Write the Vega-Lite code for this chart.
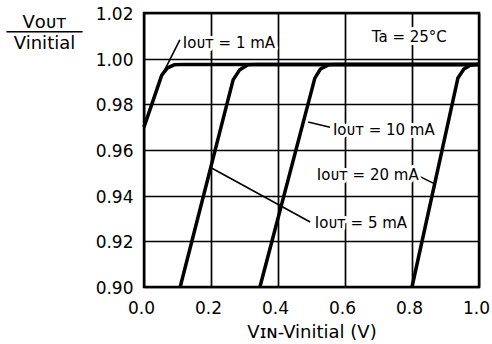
{
  "$schema": "https://vega.github.io/schema/vega-lite/v6.json",
  "width": 335,
  "height": 274,
  "autosize": {"type": "none"},
  "padding": {"left": 144, "top": 13, "right": 13, "bottom": 57},
  "background": "white",
  "config": {"view": {"stroke": "black", "strokeWidth": 2.5}, "font": "DejaVu Sans"},
  "datasets": {
    "curves": [
      {"s": "1 mA", "v": 0.0, "r": 0.970},
      {"s": "1 mA", "v": 0.053, "r": 0.9928},
      {"s": "1 mA", "v": 0.07, "r": 0.9960},
      {"s": "1 mA", "v": 0.09, "r": 0.9973},
      {"s": "1 mA", "v": 0.12, "r": 0.9975},
      {"s": "1 mA", "v": 1.0, "r": 0.9975},
      {"s": "5 mA", "v": 0.108, "r": 0.900},
      {"s": "5 mA", "v": 0.266, "r": 0.9907},
      {"s": "5 mA", "v": 0.285, "r": 0.9950},
      {"s": "5 mA", "v": 0.31, "r": 0.9973},
      {"s": "5 mA", "v": 0.34, "r": 0.9975},
      {"s": "5 mA", "v": 1.0, "r": 0.9975},
      {"s": "10 mA", "v": 0.346, "r": 0.900},
      {"s": "10 mA", "v": 0.51, "r": 0.9915},
      {"s": "10 mA", "v": 0.527, "r": 0.9955},
      {"s": "10 mA", "v": 0.55, "r": 0.9973},
      {"s": "10 mA", "v": 0.58, "r": 0.9975},
      {"s": "10 mA", "v": 1.0, "r": 0.9975},
      {"s": "20 mA", "v": 0.80, "r": 0.900},
      {"s": "20 mA", "v": 0.937, "r": 0.9915},
      {"s": "20 mA", "v": 0.955, "r": 0.9955},
      {"s": "20 mA", "v": 0.975, "r": 0.9972},
      {"s": "20 mA", "v": 1.0, "r": 0.9975}
    ],
    "leaders": [
      {"x": 0.107, "y": 1.0082, "x2": 0.054, "y2": 0.9928},
      {"x": 0.49, "y": 0.9723, "x2": 0.555, "y2": 0.970},
      {"x": 0.815, "y": 0.949, "x2": 0.863, "y2": 0.9455},
      {"x": 0.203, "y": 0.952, "x2": 0.496, "y2": 0.9285}
    ],
    "labels": [
      {"t": "Iᴏᴜᴛ = 1 mA", "x": 0.116, "y": 1.0069},
      {"t": "Ta = 25°C", "x": 0.680, "y": 1.0095},
      {"t": "Iᴏᴜᴛ = 10 mA", "x": 0.564, "y": 0.9688},
      {"t": "Iᴏᴜᴛ = 20 mA", "x": 0.516, "y": 0.949},
      {"t": "Iᴏᴜᴛ = 5 mA", "x": 0.510, "y": 0.928}
    ]
  },
  "layer": [
    {
      "data": {"name": "curves"},
      "mark": {"type": "line", "color": "black", "strokeWidth": 3.5, "strokeJoin": "round"},
      "encoding": {
        "x": {
          "field": "v", "type": "quantitative",
          "scale": {"domain": [0, 1], "nice": false, "zero": false},
          "axis": {
            "values": [0, 0.1, 0.2, 0.3, 0.4, 0.5, 0.6, 0.7, 0.8, 0.9, 1.0],
            "labelExpr": "round(datum.value*10) % 2 == 0 ? format(datum.value, '.1f') : ''",
            "grid": true, "gridColor": "black", "gridWidth": 1.7, "gridOpacity": 1,
            "ticks": false, "domain": false, "labelFlush": false,
            "labelFontSize": 17, "labelColor": "black", "labelPadding": 13, "labelOffset": -3,
            "title": "Vɪɴ-Vinitial (V)", "titleFontSize": 18, "titleFontWeight": "normal",
            "titleColor": "black", "titleX": 167.5, "titleY": 50, "titleBaseline": "alphabetic",
            "titleAlign": "center", "titleAnchor": null
          }
        },
        "y": {
          "field": "r", "type": "quantitative",
          "scale": {"domain": [0.90, 1.02], "nice": false, "zero": false},
          "axis": {
            "values": [0.90, 0.92, 0.94, 0.96, 0.98, 1.00, 1.02],
            "format": ".2f",
            "grid": true, "gridColor": "black", "gridWidth": 1.7, "gridOpacity": 1,
            "ticks": false, "domain": false, "labelFlush": false,
            "labelFontSize": 17, "labelColor": "black", "labelPadding": 11, "labelOffset": 1.5,
            "title": ["Vᴏᴜᴛ", "───────", "Vinitial"],
            "titleFontSize": 18, "titleFontWeight": "normal", "titleColor": "black",
            "titleAngle": 0, "titleX": -100, "titleY": 14, "titleBaseline": "alphabetic",
            "titleAlign": "center", "titleLineHeight": 10.5
          }
        },
        "detail": {"field": "s", "type": "nominal"}
      }
    },
    {
      "data": {"name": "leaders"},
      "mark": {"type": "rule", "color": "black", "strokeWidth": 1.6},
      "encoding": {
        "x": {"field": "x", "type": "quantitative"},
        "y": {"field": "y", "type": "quantitative"},
        "x2": {"field": "x2"},
        "y2": {"field": "y2"}
      }
    },
    {
      "data": {"name": "labels"},
      "mark": {"type": "text", "align": "left", "baseline": "middle", "fontSize": 15, "color": "white", "stroke": "white", "strokeWidth": 6, "strokeJoin": "round"},
      "encoding": {
        "x": {"field": "x", "type": "quantitative"},
        "y": {"field": "y", "type": "quantitative"},
        "text": {"field": "t"}
      }
    },
    {
      "data": {"name": "labels"},
      "mark": {"type": "text", "align": "left", "baseline": "middle", "fontSize": 15, "color": "black"},
      "encoding": {
        "x": {"field": "x", "type": "quantitative"},
        "y": {"field": "y", "type": "quantitative"},
        "text": {"field": "t"}
      }
    }
  ]
}
